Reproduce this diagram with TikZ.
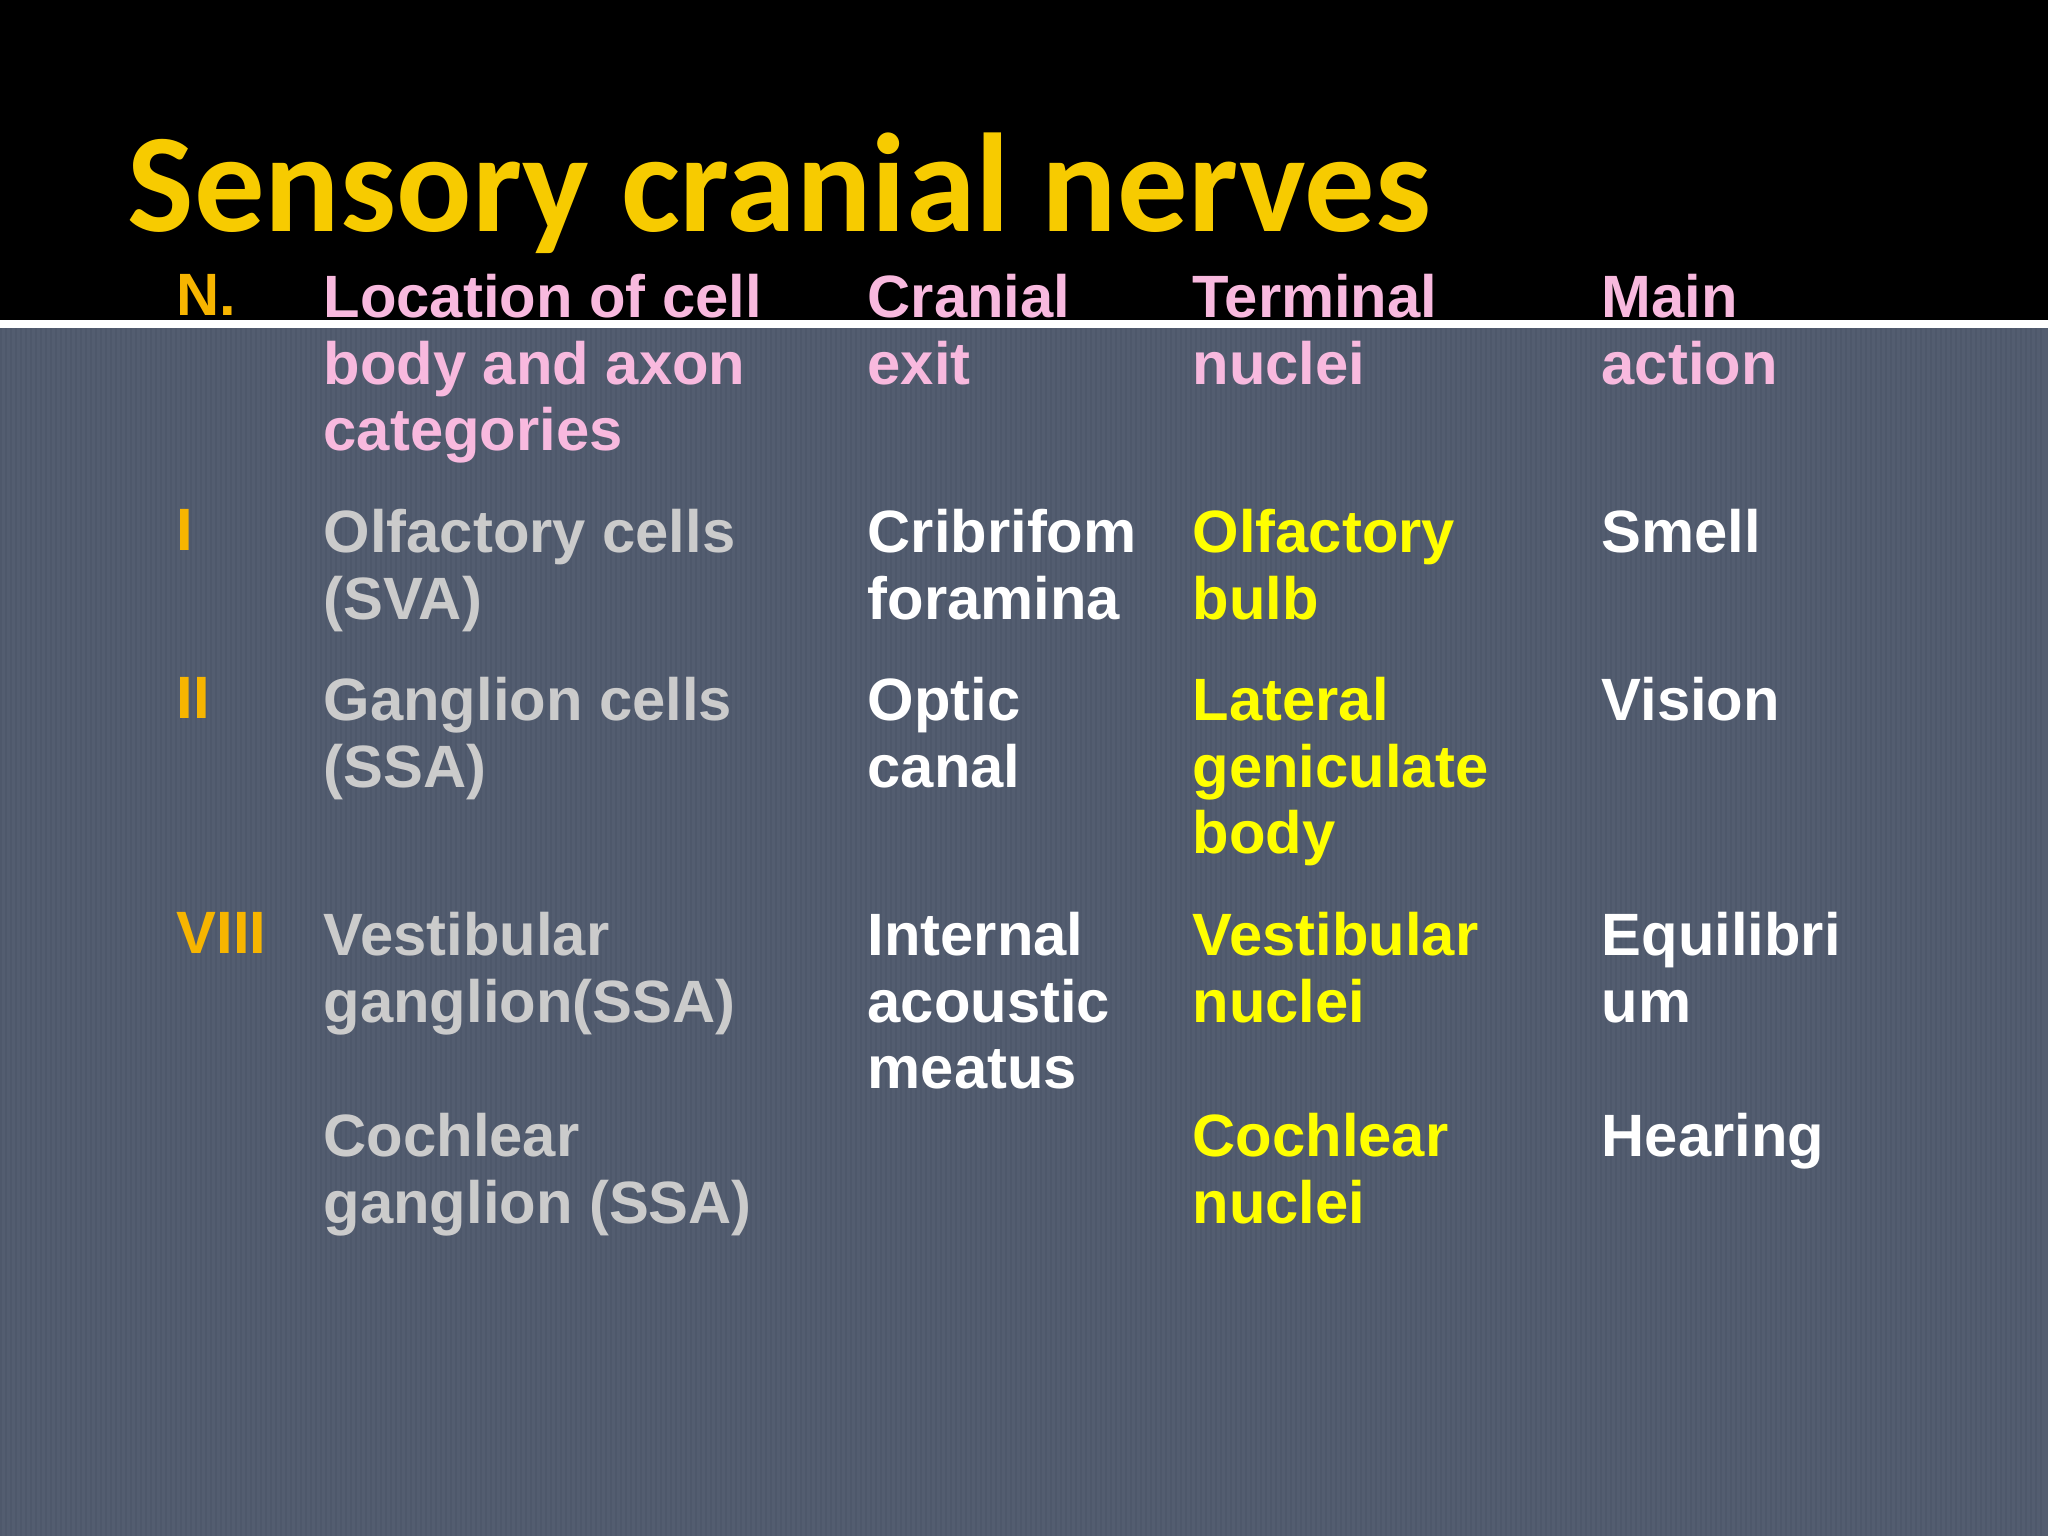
\documentclass[tikz,border=0pt]{standalone}
\usepackage{fontspec}
\setmainfont{Liberation Sans}
\newfontfamily\titlefont{Carlito}
\definecolor{bg}{HTML}{535D70}
\definecolor{stripe}{HTML}{4A5467}
\definecolor{ttl}{HTML}{F7CB00}
\definecolor{hdr}{HTML}{F8B9DE}
\definecolor{num}{HTML}{F7B500}
\definecolor{lgray}{HTML}{CBCBCB}
\definecolor{yel}{HTML}{FFFF00}
\tikzset{cell/.style={anchor=north west,inner sep=0pt,align=left,font=\bfseries\fontsize{17}{18.9}\selectfont}}
\begin{document}
\begin{tikzpicture}[x=1cm,y=1cm]
\useasboundingbox (0,0) rectangle (20.48,15.36);
\fill[black] (0,15.36) rectangle (20.48,12.16);
\fill[bg] (0,0) rectangle (20.48,12.08);
\foreach \i in {0,0.05,...,20.45} {\fill[stripe,opacity=0.5] (\i,0) rectangle ++(0.02,12.08);}
\fill[white] (0,12.08) rectangle (20.48,12.16);
\node[anchor=base west,inner sep=0pt,text=ttl,font=\titlefont\bfseries\fontsize{40}{44}\selectfont] (title) at (1.27,13.04) {Sensory cranial nerves};
% header
\node[cell,text=num] (hN) at (1.76,12.62) {N.};
\node[cell,text=hdr] (h1) at (3.23,12.62) {Location of cell\\body and axon\\categories};
\node[cell,text=hdr] (h2) at (8.67,12.62) {Cranial\\exit};
\node[cell,text=hdr] (h3) at (11.92,12.62) {Terminal\\nuclei};
\node[cell,text=hdr] (h4) at (16.01,12.62) {Main\\action};
% row I
\node[cell,text=num] (n1) at (1.76,10.27) {I};
\node[cell,text=lgray] (a1) at (3.23,10.27) {Olfactory cells\\(SVA)};
\node[cell,text=white] (b1) at (8.67,10.27) {Cribrifom\\foramina};
\node[cell,text=yel] (c1) at (11.92,10.27) {Olfactory\\bulb};
\node[cell,text=white] (d1) at (16.01,10.27) {Smell};
% row II
\node[cell,text=num] (n2) at (1.76,8.59) {II};
\node[cell,text=lgray] (a2) at (3.23,8.59) {Ganglion cells\\(SSA)};
\node[cell,text=white] (b2) at (8.67,8.59) {Optic\\canal};
\node[cell,text=yel] (c2) at (11.92,8.59) {Lateral\\geniculate\\body};
\node[cell,text=white] (d2) at (16.01,8.59) {Vision};
% row VIII
\node[cell,text=num] (n3) at (1.76,6.24) {VIII};
\node[cell,text=lgray] (a3) at (3.23,6.24) {Vestibular\\ganglion(SSA)};
\node[cell,text=white] (b3) at (8.67,6.24) {Internal\\acoustic\\meatus};
\node[cell,text=yel] (c3) at (11.92,6.24) {Vestibular\\nuclei};
\node[cell,text=white] (d3) at (16.01,6.24) {Equilibri\\um};
% cochlear
\node[cell,text=lgray] (a4) at (3.23,4.23) {Cochlear\\ganglion (SSA)};
\node[cell,text=yel] (c4) at (11.92,4.23) {Cochlear\\nuclei};
\node[cell,text=white] (d4) at (16.01,4.23) {Hearing};
\end{tikzpicture}
\end{document}
